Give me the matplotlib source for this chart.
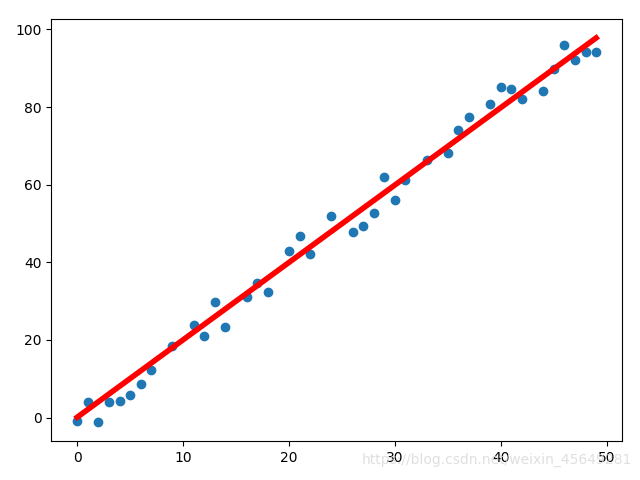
import matplotlib.pyplot as plt
import numpy as np

x = [0, 1, 2, 3, 4, 5, 6, 7, 9, 11, 12, 13, 14, 16, 17, 18, 20, 21, 22, 24,
     26, 27, 28, 29, 30, 31, 33, 35, 36, 37, 39, 40, 41, 42, 44, 45, 46, 47, 48, 49]
y = [-0.8, 4.1, -1.1, 4.1, 4.4, 5.9, 8.7, 12.3, 18.5, 23.8, 21.1, 29.8, 23.4, 31.0,
     34.8, 32.3, 42.9, 46.7, 42.2, 51.9, 47.8, 49.3, 52.6, 61.9, 56.1, 61.2, 66.3,
     68.1, 74.0, 77.4, 80.7, 85.1, 84.6, 82.0, 84.1, 89.7, 96.1, 92.0, 94.1, 94.3]

# retta stimata
line_x = [0, 49]
line_y = [0.1, 97.8]

fig, ax = plt.subplots(figsize=(6.4, 4.8), dpi=100)
ax.scatter(x, y)
ax.plot(line_x, line_y, color='r', linewidth=4)

fig.subplots_adjust(left=0.08, right=0.972, bottom=0.081, top=0.961)
fig.text(0.987, 0.028, 'https://blog.csdn.net/weixin_45649281', ha='right', va='bottom',
         color='#d8d8d8', fontsize=10, alpha=0.8)
plt.savefig('out.png')
